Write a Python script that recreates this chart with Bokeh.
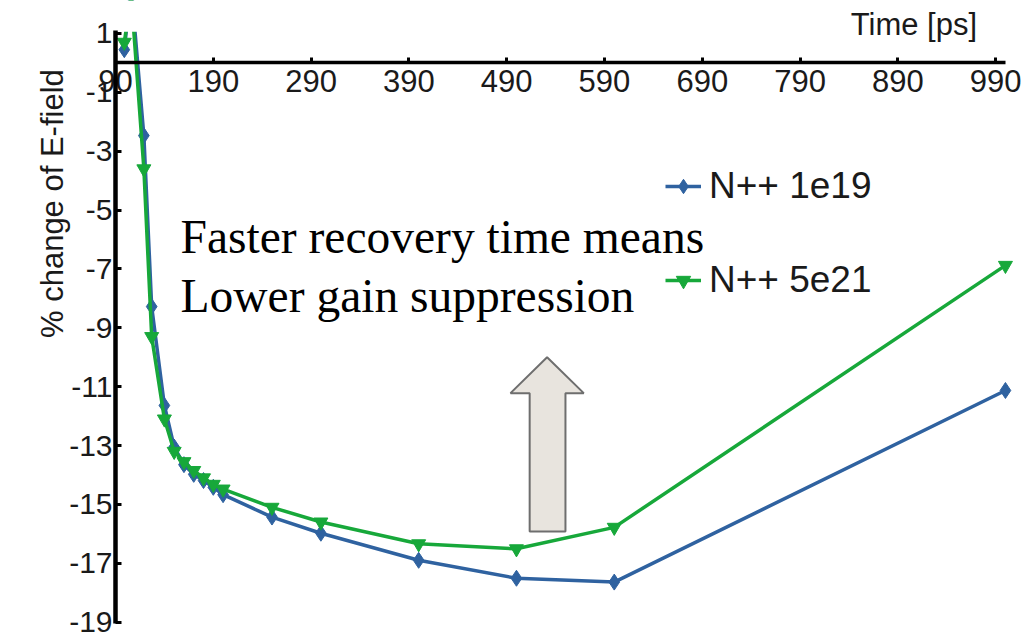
import math
from bokeh.plotting import figure
from bokeh.models import (FixedTicker, Label, Legend, LegendItem, LinearAxis,
                          CustomJSTickFormatter, BoxAnnotation)
from bokeh.embed import file_html
from bokeh.resources import INLINE

# ---- data ----
time_ps = [99, 106, 119, 127, 140, 150, 160, 170, 180, 190, 200, 250, 300, 400, 500, 600, 1000]
efield_1e19 = [0.45, 2.6, -2.47, -8.28, -11.64, -13.05, -13.65, -13.98, -14.19, -14.42,
               -14.67, -15.43, -15.98, -16.9, -17.51, -17.64, -11.13]
efield_5e21 = [0.7, 2.3, -3.6, -9.3, -12.1, -13.2, -13.55, -13.85, -14.1, -14.32,
               -14.48, -15.1, -15.6, -16.34, -16.51, -15.78, -6.88]
x_ticks = [90, 190, 290, 390, 490, 590, 690, 790, 890, 990]
y_ticks = [1, -1, -3, -5, -7, -9, -11, -13, -15, -17, -19]
series_names = ["N++ 1e19", "N++ 5e21"]
annotation_lines = ["Faster recovery time means", "Lower gain suppression"]
x_title = "Time [ps]"
y_title = "% change of E-field"

BLUE = "#2f62a0"
GREEN = "#17a83a"
SANS = "Liberation Sans"
SERIF = "Liberation Serif"
TXT = "#1a1a1a"

p = figure(width=1029, height=633, output_backend="svg", toolbar_location=None,
           x_range=(-27.6, 1024.6), y_range=(-19.387, 2.121),
           x_axis_location=None, y_axis_location=None,
           min_border=0, min_border_left=0, min_border_right=0,
           min_border_top=0, min_border_bottom=0)
p.outline_line_color = None
p.xgrid.visible = False
p.ygrid.visible = False
p.background_fill_color = "white"
p.border_fill_color = "white"

# x axis crossing at y = 0
xa = LinearAxis(fixed_location=0, bounds=(90, 1000))
xa.ticker = FixedTicker(ticks=x_ticks)
xa.formatter = CustomJSTickFormatter(code="return tick.toString();")
xa.minor_tick_line_color = None
xa.major_tick_in = 5
xa.major_tick_out = 0
xa.axis_line_width = 3.5
xa.major_tick_line_width = 3
xa.axis_line_color = "black"
xa.major_tick_line_color = "black"
xa.major_label_text_font = SANS
xa.major_label_text_font_size = "31px"
xa.major_label_text_color = TXT
xa.major_label_standoff = 7
p.add_layout(xa, "below")

# y axis at x = 90
ya = LinearAxis(fixed_location=90, bounds=(-19.05, 1.1))
ya.ticker = FixedTicker(ticks=y_ticks)
ya.formatter = CustomJSTickFormatter(code="return tick.toString();")
ya.minor_tick_line_color = None
ya.major_tick_in = 6
ya.major_tick_out = 0
ya.axis_line_width = 4.5
ya.major_tick_line_width = 3
ya.axis_line_color = "black"
ya.major_tick_line_color = "black"
ya.major_label_text_font = SANS
ya.major_label_text_font_size = "30px"
ya.major_label_text_color = TXT
ya.major_label_standoff = 3
p.add_layout(ya, "left")

# arrow (annotation shape)
ax = [513.5, 550.1, 550.1, 568.8, 531.3, 493.9, 513.5]
ay = [-15.92, -15.92, -11.22, -11.22, -10.0, -11.22, -11.22]
p.patch(ax, ay, fill_color="#e8e4de", line_color="#6e6e6e", line_width=2)

# series
l1 = p.line(time_ps, efield_1e19, line_color=BLUE, line_width=3.5)
m1 = p.scatter(time_ps, efield_1e19, marker="diamond", size=16, fill_color=BLUE, line_color=BLUE)
l2 = p.line(time_ps, efield_5e21, line_color=GREEN, line_width=3.5)
m2 = p.scatter(time_ps, efield_5e21, marker="inverted_triangle", size=14, fill_color=GREEN, line_color=GREEN)

# plot area ends just above the top tick: hide what lies above it
p.add_layout(BoxAnnotation(bottom=1.06, fill_color="white", fill_alpha=1.0,
                           line_alpha=0, level="glyph"))

legend = Legend(items=[LegendItem(label=series_names[0], renderers=[l1, m1]),
                       LegendItem(label=series_names[1], renderers=[l2, m2])],
                location=(665, 331), orientation="vertical",
                glyph_width=36, glyph_height=44, label_height=44, spacing=50,
                label_standoff=8, padding=0, margin=0,
                background_fill_alpha=0, border_line_alpha=0,
                label_text_font=SANS, label_text_font_size="37px", label_text_color=TXT)
p.add_layout(legend)

# texts
p.add_layout(Label(x=971, y=1.29, text=x_title, text_align="right", text_baseline="alphabetic",
                   text_font=SANS, text_font_size="31px", text_color=TXT))
p.add_layout(Label(x=25.5, y=-4.78, text=y_title, angle=math.pi / 2,
                   text_align="center", text_baseline="middle",
                   text_font=SANS, text_font_size="31px", text_color=TXT))
p.add_layout(Label(x=156.5, y=-5.90, text=annotation_lines[0], text_align="left", text_baseline="alphabetic",
                   text_font=SERIF, text_font_size="47.5px", text_color="black"))
p.add_layout(Label(x=156.5, y=-7.93, text=annotation_lines[1], text_align="left", text_baseline="alphabetic",
                   text_font=SERIF, text_font_size="47.5px", text_color="black"))

open("out.html", "w").write(file_html(p, INLINE))
